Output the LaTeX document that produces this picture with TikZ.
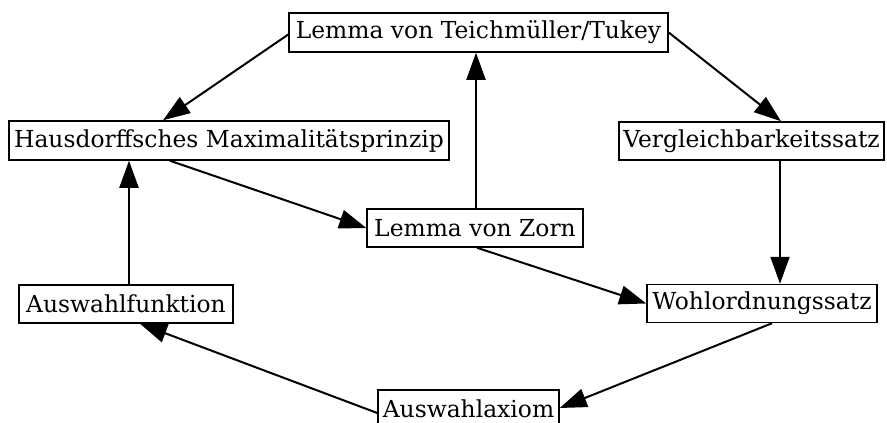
\documentclass[tikz,border=0pt]{standalone}
\usepackage{fontspec}
\setmainfont{DejaVu Serif}
\usetikzlibrary{arrows.meta}
\begin{document}
\begin{tikzpicture}[x=1pt,y=-1pt,
  box/.style={draw=black,line width=1.5pt,fill=white,inner sep=0pt,
    font=\fontsize{23.4}{27}\selectfont,anchor=center},
  edge/.style={line width=2pt,-{Triangle[length=27pt,width=19pt]},shorten >=0pt}]
\useasboundingbox (0,0) rectangle (887,423);
\node[box,minimum width=379pt,minimum height=39pt] (T) at (478.5,32.5) {Lemma von Teichmüller/Tukey};
\node[box,minimum width=440pt,minimum height=39pt] (H) at (229,140.5) {Hausdorffsches Maximalitätsprinzip};
\node[box,minimum width=265pt,minimum height=38pt] (V) at (751.5,141) {Vergleichbarkeitssatz};
\node[box,minimum width=216pt,minimum height=38pt] (Z) at (475,228) {Lemma von Zorn};
\node[box,minimum width=230pt,minimum height=38pt] (W) at (762,303.5) {Wohlordnungssatz};
\node[box,minimum width=214pt,minimum height=38pt] (F) at (126,304) {Auswahlfunktion};
\node[box,minimum width=181pt,minimum height=38pt] (A) at (468.5,409) {Auswahlaxiom};
\draw[edge] ([yshift=-2pt]T.west) -- ([xshift=-66pt]H.north);
\draw[edge] (T.east) -- ([xshift=29.5pt]V.north);
\draw[edge] ([xshift=-59pt]H.south) -- (Z.west);
\draw[edge] ([xshift=1pt]Z.north) -- ([xshift=1pt]Z.north |- T.south);
\draw[edge] ([xshift=2pt]Z.south) -- (W.west);
\draw[edge] ([xshift=28.5pt]V.south) -- ([xshift=28.5pt]V.south |- W.north);
\draw[edge] ([xshift=10pt]W.south) -- ([yshift=1pt]A.east);
\draw[edge] ([yshift=-4pt]A.west) -- ([xshift=14pt]F.south);
\draw[edge] ([xshift=3pt]F.north) -- ([xshift=3pt]F.north |- H.south);
\end{tikzpicture}
\end{document}
